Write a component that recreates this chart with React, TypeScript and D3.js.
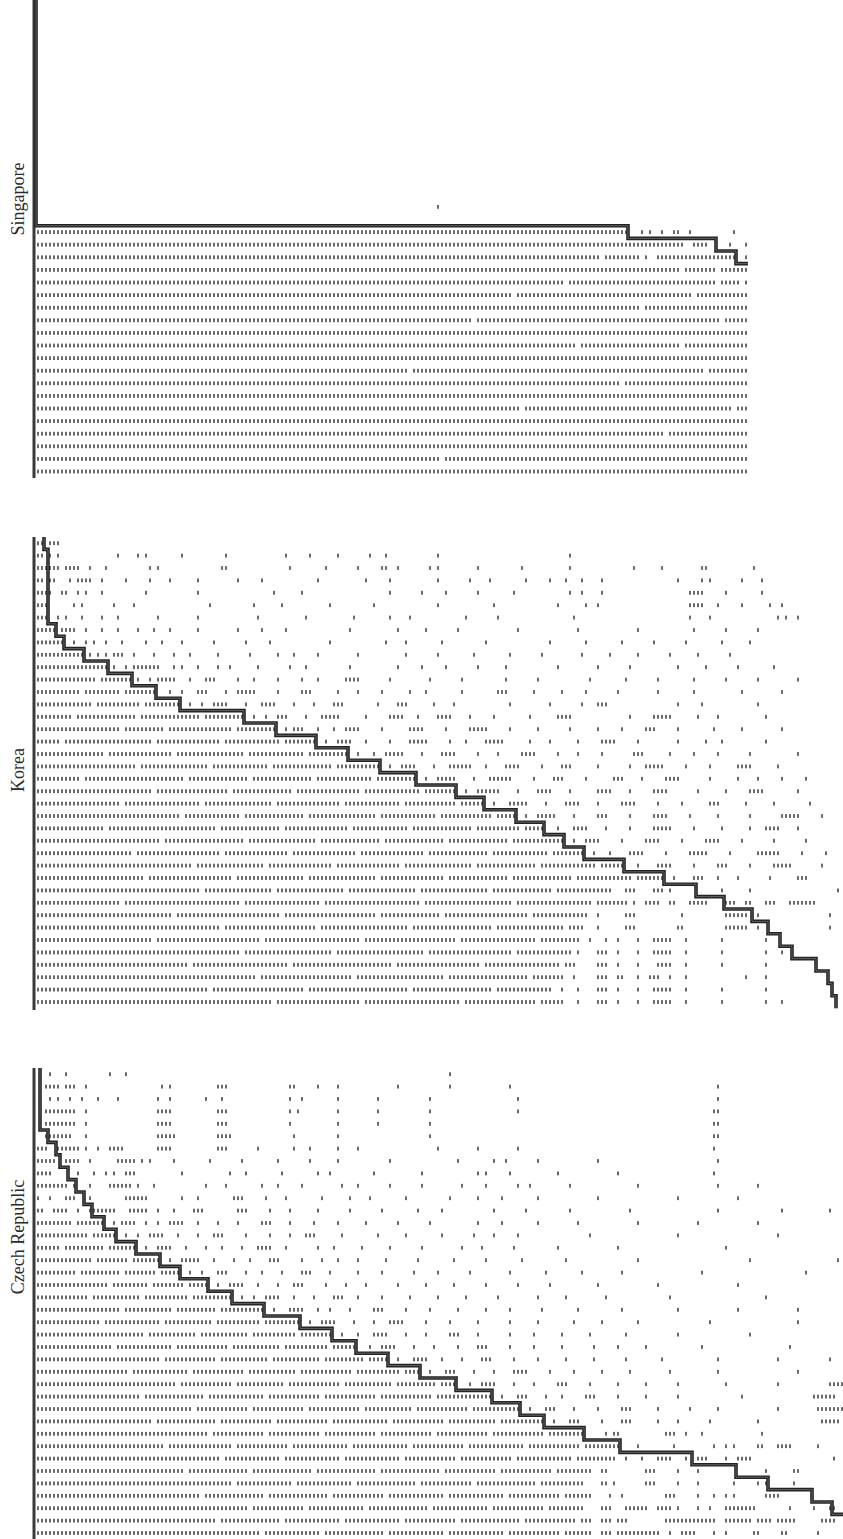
import React from "react";
import * as d3 from "d3";

// panel labels
const panelNames = ["Singapore", "Korea", "Czech Republic"];

// number of columns left of the step line, one value per row
const singaporeSteps = [0, 0, 0, 0, 0, 0, 0, 0, 0, 0, 0, 0, 0, 0, 0, 0, 0, 0, 148, 170, 175];
const singaporeEnd = 178;
const koreaSteps = [2, 3, 3, 3, 3, 3, 3, 5, 7, 12, 18, 24, 30, 36, 52, 60, 70, 78, 86, 95, 105, 112, 120, 127, 132, 137, 147, 157, 165, 172, 179, 183, 186, 189, 195, 198, 199, 200];
const czechSteps = [1, 1, 1, 1, 1, 3, 5, 6, 8, 10, 12, 14, 17, 20, 25, 31, 36, 43, 49, 57, 66, 74, 80, 88, 96, 105, 114, 121, 127, 137, 146, 164, 175, 183, 194, 199, 203, 206];

// marked cells per row: column indices and ranges a-b
const singaporeRows = [
  "", "", "", "", "", "", "", "", "", "", "", "", "", "", "", "",
  "100",
  "",
  "0-147 151 153 156 159 160 163 174",
  "0-161 164-167 173 177",
  "0-140 142-150 152 155-174 177",
  "0-160 162-169 171-177",
  "0-131 133-169 171-175 177",
  "0-118 120-163 165-177",
  "0-150 152-177",
  "0-108 110-170 172-177",
  "0-177",
  "0-134 136-160 162-177",
  "0-177",
  "0-92 94-166 168-177",
  "0-145 147-177",
  "0-177",
  "0-120 122-173 175-177",
  "0-177",
  "0-156 158-177",
  "0-177",
  "0-100 102-177",
  "0-177",
];

const koreaRows = [
  "0 1 3 4 5",
  "0 1 3 5 20 25 27 36 47 62 68 75 83 87 100 133",
  "0-5 7-10 13 17 28 30 46 47 63 72 80 86 87 90 98 100 110 121 133 149 156 166 167 179",
  "0 1 3 4 8 10-13 16 22 28 33 40 50 56 70 82 88 100 108 113 122 128 132 136 141 160 166 168 176 181",
  "0-3 6 7 10 12 16 27 40 59 66 88 96 102 110 119 133 136 141 163-166 172 181",
  "0-2 9 11 19 24 43 54 61 73 84 100 114 130 137 140 163-166 170 176 183 186",
  "0-2 5 7 11 16 20 30 40 55 67 79 88 93 107 115 134 163 168 185 187 190",
  "0-4 6-9 12 16 20 25 29 33 40 50 56 62 78 90 97 105 120 135 150 164 172 180",
  "0-6 9 12 14 17 21 27 31 36 44 52 58 73 87 92 101 112 128 137 146 154 162 171 178",
  "0-11 13 15 17 19-21 24 29 34 38 45 53 60 64 70 80 92 100 109 118 126 136 143 150 158 165 173",
  "0-17 19 22 24-30 34 36 40 45 48 55 63 67 78 90 96 102 110 117 130 140 148 160 167 175 184",
  "0-14 16-23 25 28 30-34 38 42-44 50 54 60 66 70 77-80 88 98 106 117 125 138 147 155 164 172 180 190",
  "0-10 12-20 22-29 33 36 40-42 47 50-54 60 66-68 75 80 86 93 97 106 115-117 124 131 137 145 155 164 176 186",
  "0-13 15-25 27-35 38 41 44-47 52 56-59 64 69 74-76 85 90-92 99 104 118 128 136 140-142 160 166 180",
  "0-8 10-24 26-40 42-51 54 57 60-62 67 71-75 82 88-91 95 100-103 108 114 123 130-133 148 154-158 165 170 182",
  "0-20 22-31 33-48 50-59 62 64-66 70 74 77-80 86 93-96 102 108-112 118 125 133 140 146 152-154 160 169 176 186",
  "0-5 7-28 30-45 47-60 62-69 72 75-78 82 88 93-97 103 107 112-116 123 128 135 141-144 150 160 167 171 182",
  "0-16 18-33 35-51 53-66 68-77 80 84 87-91 96 101-104 110 115 121-124 130 135 141 149-151 158 164 170 178 190",
  "0-24 26-42 44-57 59-73 75-85 88 91-94 99 103-108 112 117-120 126 131-133 140 148 152-156 162 168 175-178 185",
  "0-10 12-36 38-52 54-68 70-83 85-94 97 100-104 109 113-118 124 129-131 137 144-146 151 157-160 168 175 180 186 192",
  "0-28 30-47 49-63 65-80 82-95 97-104 107 110-115 120 125-128 133 140-143 148 154-157 165 172 178-181 190",
  "0-20 22-40 42-58 60-75 77-90 92-104 106-111 114 118-122 127 132-135 140 146-149 155 161 168-170 177 184 193",
  "0-35 37-50 52-66 68-84 86-99 101-113 115-119 122 125-129 134 140-142 148 154-157 163 170 178 186-190 196",
  "0-16 18-44 46-60 62-77 79-92 94-108 110-120 122-126 130 134-137 142 148 154-158 164 171 178 182-185 190",
  "0-30 32-51 53-69 71-85 87-101 103-117 119-131 134 137-140 146 152-155 161 167-170 176 184 192",
  "0-23 25-45 47-62 64-79 81-96 98-112 114-127 129-136 139 143 148-151 157 163-167 173 180-185 191 197",
  "0-38 40-56 58-73 75-90 92-108 110-124 126-139 141-146 150 155-158 164 170-172 178 184-188 196",
  "0-26 28-48 50-66 68-84 86-101 103-117 119-133 135-148 150-156 159 164-166 170 175 183 190-192",
  "0-40 42-58 60-76 78-94 96-112 114-128 130-140 141-143 147-149 154-156 158 171 178 200",
  "0-20 22-50 52-70 72-95 97-118 120-138 140-147 149 152-155 158 159 163-167 172-174 177 178 182-184 188-194",
  "0-33 35-60 62-84 86-100 102-122 124-137 140 147-149 161 172-177 180 198",
  "0-45 47-69 71-92 94-113 115-131 133-136 140 147-149 160 161 172-177 180 198",
  "0-28 30-55 57-80 82-104 106-124 126-135 138 142 145 150 154-158 162 171 182",
  "0-50 52-73 75-96 98-118 120-133 135 140-142 145 150 154-158 162 171 182 186",
  "0-37 39-62 64-88 90-110 112-130 132-134 140-142 145 150 155-158 162 171 182",
  "0-54 56-78 80-101 103-122 124-131 134 140-142 145 146 150 153-155 158 162 177 182",
  "0-42 44-66 68-92 94-113 115-128 131 135 140-142 145 150 154-158 162 171 182",
  "0-58 60-80 82-105 107-124 126-131 135 140-142 145 150 154-158 162 171 182 186",
];

const czechRows = [
  "3 7 18 22 103",
  "2-5 7-9 12 31 33 45-47 63 64 70 75 90 103 118 170",
  "3 5 8 11 15 20 30 33 42 46 63 66 75 85 98 120 170",
  "2-9 12 30-33 45-47 63 65 75 85 98 120 169 170",
  "2-9 12 30-33 45-47 63 75 85 98 169 170",
  "2-8 12 30-34 45-48 64 75 98 169 170",
  "0-2 5-10 12 15 18-21 30-33 45-47 55 64 68 75 80 100 110 120 169",
  "0-4 7-10 13 20-24 26 28 34 43 51 60 68 75 88 105 114 117 125 140 170",
  "0-3 10 14 17 19 22-24 36 48 52 61 70 73 84 96 110 112 118 130 145 169",
  "0-6 7 9 13 18-23 25 29 42 47 56 60 66 76 80 88 96 106 112 120 123 133 150 170 180",
  "0 3 7-9 13 22-27 36 40 49-51 57 62 71 78 83 92 103 110 116 125 140 160 175",
  "0-1 4-7 10 13-19 23-27 30 34 39-41 50-52 58 63 70 78 86 95 101 114 122 133 148 170 186 198",
  "0-8 10-16 19 21-24 27 30 33-36 40 45 50 56-58 63 69 75 82 90 98 110 116 125 135 150 165 180",
  "0-12 14-19 22 25 28-31 35 40 44-46 52 58 63 67-69 76 85 92 101 109 114 120 138 160 185",
  "0-5 7-16 18-24 27 30-33 37 42 46 51 55-58 62 70 74 81 88 96 106 111 119 130 145 172",
  "0-13 15-22 24-30 33 36-40 44 49 53 58-60 66 71 75 80 87 95 104 112 121 132 150 178 200",
  "0-9 11-20 22-29 31-35 38 41 45-47 52 56 61 66-68 73 80 86 94 100 108 118 127 136 146 166 192",
  "0-17 19-27 29-36 38-42 45 48-51 55 60 64-66 72 77 82 90 97 104 112 120 128 140 155 175",
  "0-12 14-25 27-37 39-48 51 54 57-60 64 69 74-76 80 86 93 100 107 115 125 132 142 158 182",
  "0-20 22-33 35-44 46-56 59 63-66 70 73 78 84-86 92 98 105 112 118 126 135 146 160 175 190",
  "0-15 17-30 32-43 45-55 57-65 68 71-74 79 84 88-91 97 103 110 118 125 134 141 150 168 190",
  "0-26 28-39 41-52 54-64 66-73 76 80 84-87 92 97 103-105 110 118 124 131 138 147 160 178",
  "0-18 20-33 35-47 49-60 62-72 74-79 83 86-89 94 99 105 110-112 118 124 131 139 145 152 166 188",
  "0-30 32-44 46-57 59-70 72-81 83-87 90 94-97 101 106 111-113 119 125 132 139 147 156 170 185 198",
  "0-22 24-37 39-51 53-64 66-78 80-90 92-95 98 102-104 109 114 119-122 128 134 141 148 158 170 190",
  "0-34 36-48 50-61 63-75 77-88 90-99 101-104 108 111-114 119 124 130-132 138 145 152 160 172 185 198-201",
  "0-25 27-41 43-56 58-70 72-84 86-98 100-113 116 120-122 127 131 137-139 145 152 160 176 194-199",
  "0-38 40-52 54-66 68-80 82-93 95-107 109-120 123 127-129 134 140 146-148 155 163 170 185 195-201",
  "0-28 30-44 46-58 60-72 74-87 89-101 103-114 116-126 129 133-135 141 146-148 155 160 168 180 196-200",
  "0-42 44-56 58-70 72-84 86-98 100-112 114-126 128-136 142 144-145 157-159 162 166 181",
  "0-31 33-48 50-62 64-77 79-92 94-106 108-121 123-135 137-145 150 159 169 172 174 180 181 185-188 195",
  "0-45 47-60 62-75 77-90 92-104 106-118 120-133 135-144 147 151 155-158 162 165-167 172 175-178 199",
  "0-36 38-52 54-68 70-84 86-100 102-114 116-128 130-138 141 142 152-154 160 165 182 189 190",
  "0-48 50-63 65-78 80-94 96-108 110-124 126-136 141 142 144 152-154 160 165 174 180 182 189",
  "0-40 42-56 58-72 74-86 88-101 103-116 118-130 132-138 143 146 157-159 165 169 172 174 182-185",
  "0-52 54-66 68-81 83-97 99-112 114-126 128-136 141-143 147-152 155-158 160 165 168 172-179 188 194 198 199",
  "0-44 46-60 62-75 77-90 92-104 106-120 122-134 136-138 141-143 145-147 157-169 172-178 180-183 185-189 196-199",
  "0-55 57-70 72-86 88-101 103-116 118-130 132-138 141-143 145-148 149-155 158 161-164 169 172 179 180 186 187 195",
];

const W = 843;
const H = 1539;
const colW = 4.0;
const x0 = 36;

const layout = [
  { top: -1, rowH: 12.6, axisTop: 0, axisBottom: 478, labelY: 199, end: singaporeEnd },
  { top: 537, rowH: 12.4, axisTop: 537, axisBottom: 1010, labelY: 770, end: null },
  { top: 1068, rowH: 12.4, axisTop: 1068, axisBottom: 1545, labelY: 1237, end: null },
];
const stepsList = [singaporeSteps, koreaSteps, czechSteps];
const rowsList = [singaporeRows, koreaRows, czechRows];

function parseRow(s: string): number[] {
  const out: number[] = [];
  s.split(" ").filter(Boolean).forEach((tok) => {
    const [a, b] = tok.split("-").map(Number);
    if (b === undefined) out.push(a);
    else for (let k = a; k <= b; k++) out.push(k);
  });
  return out;
}

const Panel = ({ idx }: { idx: number }) => {
  const L = layout[idx];
  const rows = rowsList[idx];
  const steps = stepsList[idx];
  const x = d3.scaleLinear().domain([0, 1]).range([x0, x0 + colW]);
  const y = d3.scaleLinear().domain([0, 1]).range([L.top, L.top + L.rowH]);

  const pts: [number, number][] = [];
  steps.forEach((c, i) => {
    pts.push([x(c), i === 0 ? L.axisTop : y(i)]);
    pts.push([x(c), y(i + 1)]);
  });
  if (L.end !== null) pts.push([x(L.end), y(steps.length)]);
  const path = d3.line()(pts) || "";

  const marks: { j: number; i: number }[] = [];
  rows.forEach((r, i) => parseRow(r).forEach((j) => marks.push({ j, i })));

  return (
    <g>
      {marks.map((m, k) => (
        <rect
          key={k}
          x={x(m.j + 0.5) - 0.95}
          y={y(m.i + 0.5) - 1.9}
          width={1.9}
          height={3.8}
          fill="#474747"
          opacity={0.85}
        />
      ))}
      <line x1={34} x2={34} y1={L.axisTop} y2={L.axisBottom} stroke="#3a3a3a" strokeWidth={3} />
      <path d={path} fill="none" stroke="#222" strokeWidth={3.6} strokeLinejoin="miter" />
      <path d={path} fill="none" stroke="#6a6a6a" strokeWidth={0.9} />
      <text
        transform={`translate(24,${L.labelY}) rotate(-90)`}
        textAnchor="middle"
        fontFamily="'Liberation Serif', 'Times New Roman', serif"
        fontSize={18}
        fill="#2a2a2a"
      >
        {panelNames[idx]}
      </text>
    </g>
  );
};

export default function App() {
  return (
    <svg
      width={W}
      height={H}
      style={{ position: "absolute", left: 0, top: 0, background: "#fff" }}
    >
      <rect width={W} height={H} fill="#fff" />
      {[0, 1, 2].map((i) => (
        <Panel key={i} idx={i} />
      ))}
    </svg>
  );
}
